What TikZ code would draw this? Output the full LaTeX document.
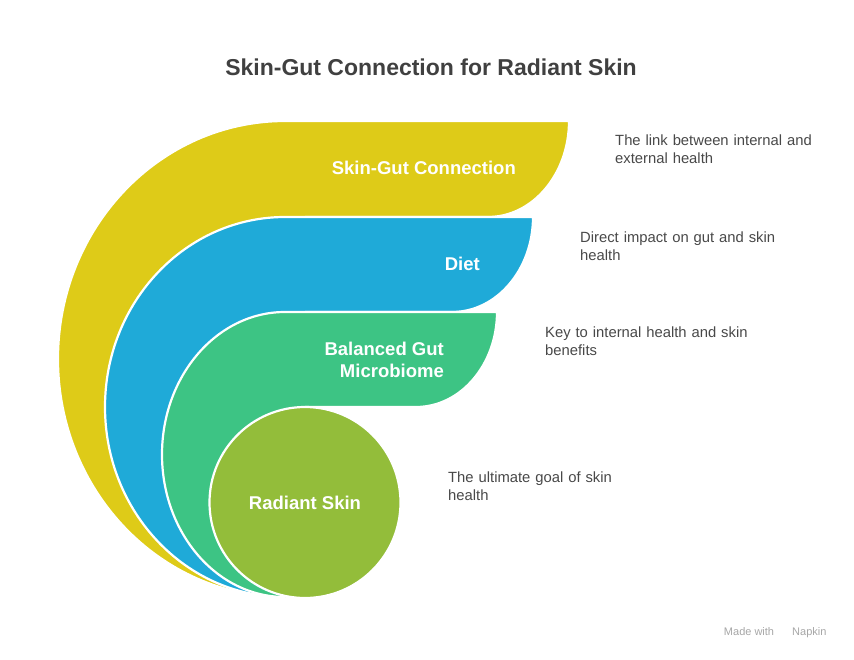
\documentclass[tikz,border=0pt]{standalone}
\usepackage{fontspec}
\setmainfont{Liberation Sans}
\usepackage{tikz}
\usetikzlibrary{positioning}

\definecolor{skyellow}{RGB}{222,203,24}
\definecolor{skblue}{RGB}{31,170,216}
\definecolor{skgreen}{RGB}{61,196,132}
\definecolor{sklime}{RGB}{147,189,58}
\definecolor{sktitle}{RGB}{64,64,64}
\definecolor{sktext}{RGB}{72,72,72}

\tikzset{
  layer/.style={draw=white, line width=2.2pt, line join=round},
  lbl/.style={text=white, font=\fontsize{18.5}{22}\selectfont\bfseries, align=right, inner sep=0pt},
  desc/.style={text=sktext, font=\fontsize{14.8}{18}\selectfont, align=left, anchor=west, inner sep=0pt, text width=240pt}
}

\begin{document}
\begin{tikzpicture}[x=1pt, y=-1pt]
\useasboundingbox (0,0) rectangle (854,660);

\node[text=sktitle, font=\fontsize{23}{27}\selectfont\bfseries] (title) at (431,67) {Skin-Gut Connection for Radiant Skin};

% bands: top / bottom / right end / half width of the left arc / colour
\foreach \t/\b/\r/\w/\c in {121/217/569/227/skyellow, 217/312/533/180/skblue, 312/407/497/123/skgreen}
  \filldraw[layer, fill=\c] (285,597) arc[start angle=90, end angle=270, x radius=\w, y radius={(597-\t)/2}]
    -- (\r,\t) arc[start angle=0, end angle=90, x radius=81, y radius={\b-\t}] -- (305,\b);

\filldraw[layer, fill=sklime] (305,502.5) circle (95.5);

\node[lbl, anchor=east] (gut) at (516,168) {Skin-Gut Connection};
\node[lbl, anchor=east] (diet) at (480,264) {Diet};
\node[lbl, anchor=east] (micro) at (444,360) {Balanced Gut\\Microbiome};
\node[lbl, align=center] (skin) at (305,503) {Radiant Skin};

\node[desc] (dgut) at (615,149) {The link between internal and\\external health};
\node[desc] (ddiet) at (580,246) {Direct impact on gut and skin\\health};
\node[desc] (dmicro) at (545,341) {Key to internal health and skin\\benefits};
\node[desc] (dskin) at (448,486) {The ultimate goal of skin\\health};

\node[text=black!35, font=\fontsize{11}{13}\selectfont, anchor=east] (made) at (830,633) {Made with \hspace{12pt} Napkin};
\end{tikzpicture}
\end{document}
